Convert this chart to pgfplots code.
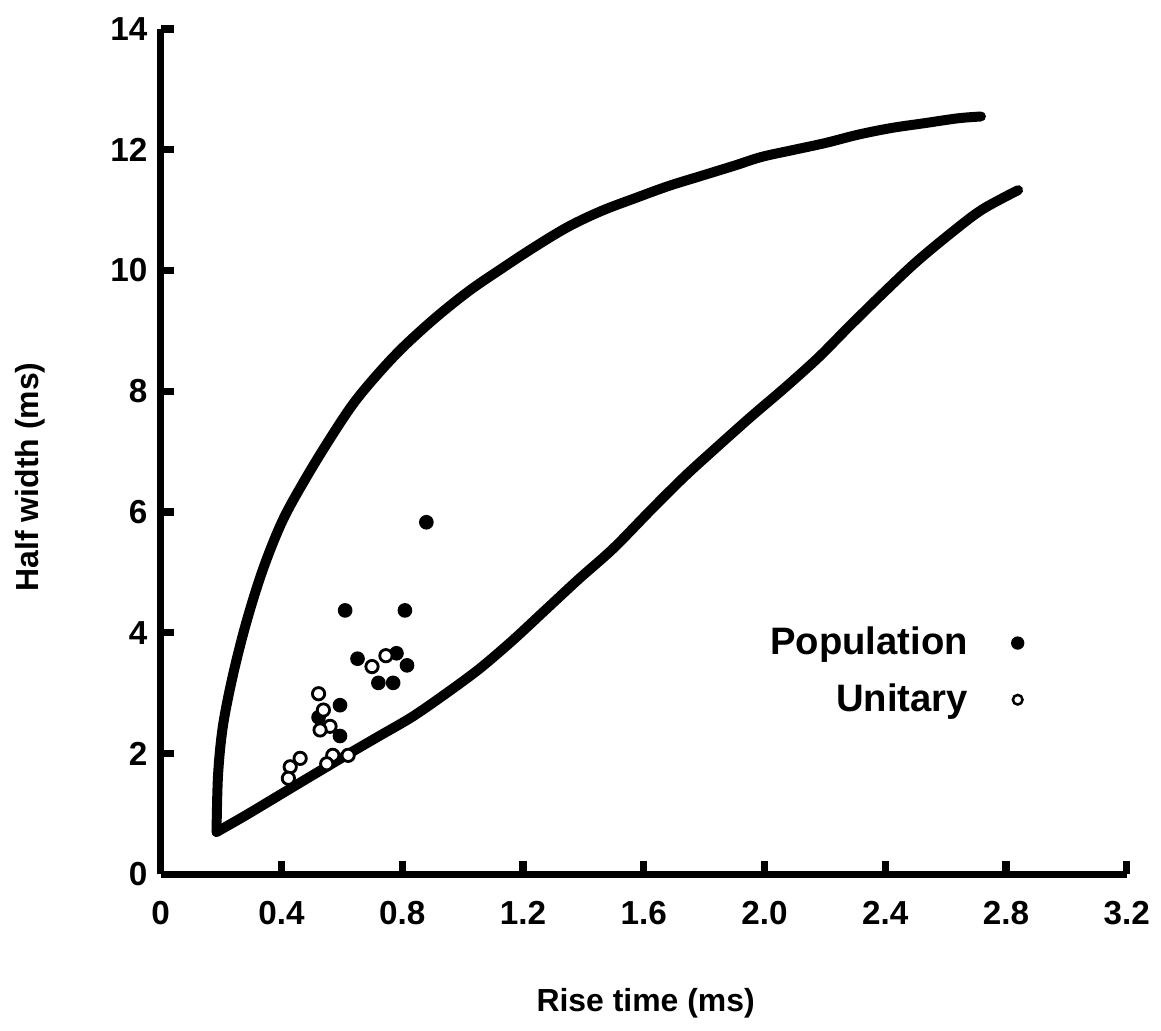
\documentclass[border=0pt]{standalone}
\usepackage{pgfplots}
\pgfplotsset{compat=1.18}
\usepackage{fontspec}
\setmainfont{Liberation Sans}
\begin{document}
\begin{tikzpicture}
\begin{axis}[
  scale only axis,
  width=290.4pt, height=254.1pt,
  xmin=0, xmax=3.2, ymin=0, ymax=14,
  axis x line*=bottom, axis y line*=left,
  axis line style={line width=2.2pt, -},
  every tick/.style={line width=2.2pt, black},
  tick align=inside,
  major tick length=4pt,
  xtick={0,0.4,0.8,1.2,1.6,2.0,2.4,2.8,3.2},
  xticklabels={0,0.4,0.8,1.2,1.6,2.0,2.4,2.8,3.2},
  ytick={0,2,4,6,8,10,12,14},
  yticklabels={0,2,4,6,8,10,12,14},
  xticklabel style={font=\fontsize{10}{12}\selectfont\bfseries, yshift=-4.5pt},
  yticklabel style={font=\fontsize{10}{12}\selectfont\bfseries, xshift=-0.5pt},
  xlabel={Rise time (ms)},
  ylabel={Half width (ms)},
  xlabel style={font=\fontsize{9.6}{12}\selectfont\bfseries, at={(axis description cs:0.502,-0.1523)}, anchor=center},
  ylabel style={font=\fontsize{9.6}{12}\selectfont\bfseries, at={(axis description cs:-0.1353,0.47)}, anchor=center, rotate=0},
  legend plot pos=right,
  legend cell align=right,
  legend style={at={(axis cs:2.863,3.36)}, anchor=east, draw=none, fill=none,
    font=\fontsize{11.5}{13}\selectfont\bfseries, row sep=3.2pt, column sep=11pt, inner sep=0pt},
  clip=false,
]
\coordinate (O) at (axis cs:0,0);
\addplot[line width=3pt, line join=round, line cap=round, black, smooth, tension=0.55, forget plot] coordinates {
(2.717,12.55) (2.641,12.52) (2.531,12.44) (2.421,12.36) (2.311,12.25) (2.201,12.11)
(2.090,11.99) (1.990,11.88) (1.903,11.74) (1.793,11.57) (1.683,11.40) (1.573,11.20)
(1.462,10.99) (1.352,10.73) (1.242,10.40) (1.132,10.04) (1.021,9.66) (0.911,9.22)
(0.801,8.72) (0.713,8.25) (0.636,7.78) (0.559,7.20) (0.482,6.57) (0.404,5.86)
(0.338,5.04) (0.283,4.16) (0.239,3.29) (0.206,2.45) (0.190,1.64) (0.185,0.70)
};
\addplot[line width=3pt, line join=round, line cap=round, black, smooth, tension=0.5, forget plot] coordinates {
(0.185,0.70)
(0.283,0.98) (0.393,1.31) (0.503,1.64) (0.614,1.97) (0.724,2.29) (0.834,2.61)
(0.944,2.99) (1.055,3.40) (1.165,3.87) (1.275,4.38) (1.385,4.89) (1.500,5.40)
(1.627,6.05) (1.738,6.60) (1.848,7.10) (1.958,7.59) (2.068,8.06) (2.179,8.56)
(2.278,9.06) (2.388,9.60) (2.498,10.12) (2.608,10.58) (2.718,11.00) (2.840,11.33)
};
\addplot[only marks, mark=*, mark size=2pt, black,
  legend image code/.code={\fill[black] (0pt,0pt) circle (1.8pt);}] coordinates {
(0.880,5.83) (0.611,4.37) (0.809,4.37) (0.652,3.57) (0.781,3.66) (0.816,3.46)
(0.721,3.17) (0.770,3.17) (0.594,2.80) (0.523,2.60) (0.594,2.29)
};
\addlegendentry{Population}
\addplot[only marks, mark=*, mark size=1.85pt, mark options={draw=black, fill=white, line width=0.85pt},
  legend image code/.code={\draw[black, fill=white, line width=0.75pt] (0pt,0pt) circle (1.45pt);}] coordinates {
(0.746,3.62) (0.700,3.44) (0.523,2.99) (0.539,2.72) (0.561,2.45) (0.528,2.39)
(0.462,1.92) (0.429,1.78) (0.423,1.59) (0.570,1.97) (0.550,1.83) (0.621,1.97)
};
\addlegendentry{Unitary}
\end{axis}
\path (O) ++(-48.3pt,262.8pt) rectangle ++(348.3pt,-309.9pt);
\end{tikzpicture}
\end{document}
